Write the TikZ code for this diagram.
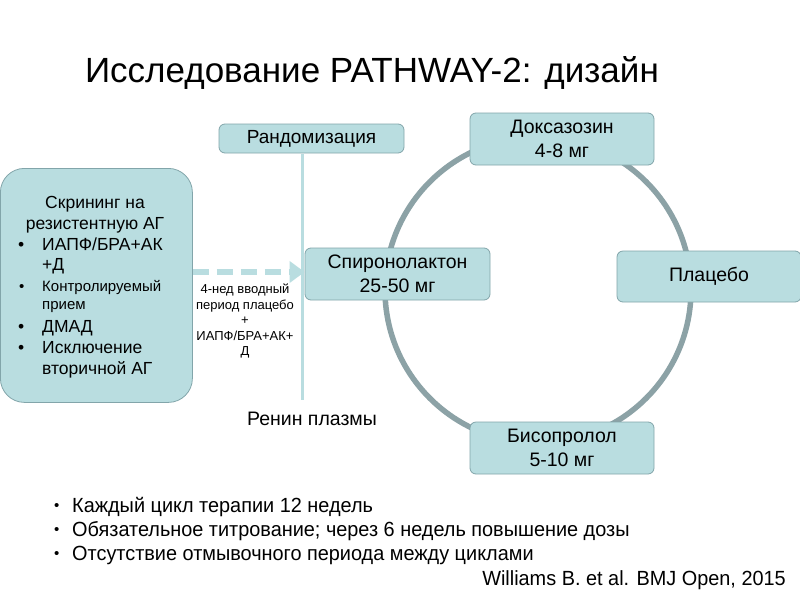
\documentclass[tikz,border=0pt]{standalone}
\usepackage{fontspec}
\setmainfont{Liberation Sans}
\usetikzlibrary{arrows.meta}
\definecolor{boxfill}{RGB}{185,221,224}
\definecolor{boxline}{RGB}{130,165,170}
\definecolor{ringc}{RGB}{140,162,166}
\definecolor{linec}{RGB}{185,221,224}
\tikzset{
  box/.style={draw=boxline, line width=0.8pt, fill=boxfill, rounded corners=6pt, align=center, inner sep=0pt},
  fs/.style={font=\fontsize{#1}{#1}\selectfont},
  bul/.style={anchor=base west, inner sep=0pt, font=\fontsize{17.5}{17.5}\selectfont},
  sbul/.style={anchor=base west, inner sep=0pt, font=\fontsize{15}{15}\selectfont},
}
\begin{document}
\begin{tikzpicture}[x=1pt,y=-1pt]
\useasboundingbox (0,0) rectangle (800,600);
\fill[white] (0,0) rectangle (800,600);
% title
\node[fs=35, anchor=base, inner sep=0pt] (title) at (372,82) {Исследование PATHWAY-2: дизайн};
% ring
\node[draw=ringc, line width=5.5pt, circle, minimum size=306pt, inner sep=0pt] (ring) at (538,290) {};
% vertical line
\coordinate (vbot) at (302,400);
% randomization
\node[box, minimum width=185pt, minimum height=29pt, fs=19] (rand) at (311.5,138.5) {Рандомизация};
\draw[linec, line width=3pt] (302,153.5) -- (vbot);
% screening
\node[box, rounded corners=24pt, minimum width=192pt, minimum height=234pt, anchor=north west] (scr) at (0,168) {};
\node[fs=17.5, anchor=base, inner sep=0pt] (s1) at (95,208) {Скрининг на};
\node[fs=17.5, anchor=base, inner sep=0pt] (s2) at (95,229) {резистентную АГ};
\node[bul] (b1d) at (18,250) {•};
\node[bul] (b1) at (42,250) {ИАПФ/БРА+АК};
\node[bul] (b1b) at (42,270) {+Д};
\node[sbul] (b2d) at (19,291) {•};
\node[sbul] (b2) at (42,291) {Контролируемый};
\node[sbul] (b2b) at (42,309) {прием};
\node[bul] (b3d) at (18,332) {•};
\node[bul] (b3) at (42,332) {ДМАД};
\node[bul] (b4d) at (18,353) {•};
\node[bul] (b4) at (42,353) {Исключение};
\node[bul] (b4b) at (42,374) {вторичной АГ};
% boxes on ring
\node[box, minimum width=184pt, minimum height=52pt, fs=19.5] (dox) at (562,139) {Доксазозин\\[4pt]4-8 мг};
\node[box, minimum width=185pt, minimum height=52pt, fs=19.5] (spi) at (397.5,274) {Спиронолактон\\[4pt]25-50 мг};
\node[box, minimum width=184pt, minimum height=51pt, fs=19.5] (plc) at (709,276.5) {Плацебо};
\node[box, minimum width=184pt, minimum height=52pt, fs=19.5] (bis) at (562,448) {Бисопролол\\[4pt]5-10 мг};
% dashed arrow
\draw[linec, line width=6.5pt, dash pattern=on 16pt off 8pt, -{Triangle[length=15pt,width=21pt]}] (scr.east |- 0,272) -- (spi.west |- 0,272);
\node[fs=13, align=center, inner sep=0pt, anchor=north] (run) at (245,284) {4-нед вводный\\[2.5pt]период плацебо\\[2.5pt]+\\[2.5pt]ИАПФ/БРА+АК+\\[2.5pt]Д};
\node[fs=19.5, anchor=base, inner sep=0pt] (renin) at (312,425) {Ренин плазмы};
% bottom bullets
\node[bul, fs=15] (c1d) at (54,510) {•};
\node[bul, fs=20.5] (c1) at (72,512) {\scalebox{0.97}[1]{Каждый цикл терапии 12 недель}};
\node[bul, fs=15] (c2d) at (54,534) {•};
\node[bul, fs=20.5] (c2) at (72,536) {\scalebox{0.97}[1]{Обязательное титрование; через 6 недель повышение дозы}};
\node[bul, fs=15] (c3d) at (54,558) {•};
\node[bul, fs=20.5] (c3) at (72,560) {\scalebox{0.97}[1]{Отсутствие отмывочного периода между циклами}};
\node[fs=20.5, anchor=base east, inner sep=0pt] (cite) at (786,585) {\scalebox{0.97}[1]{Williams B. et al. BMJ Open, 2015}};
\end{tikzpicture}
\end{document}
